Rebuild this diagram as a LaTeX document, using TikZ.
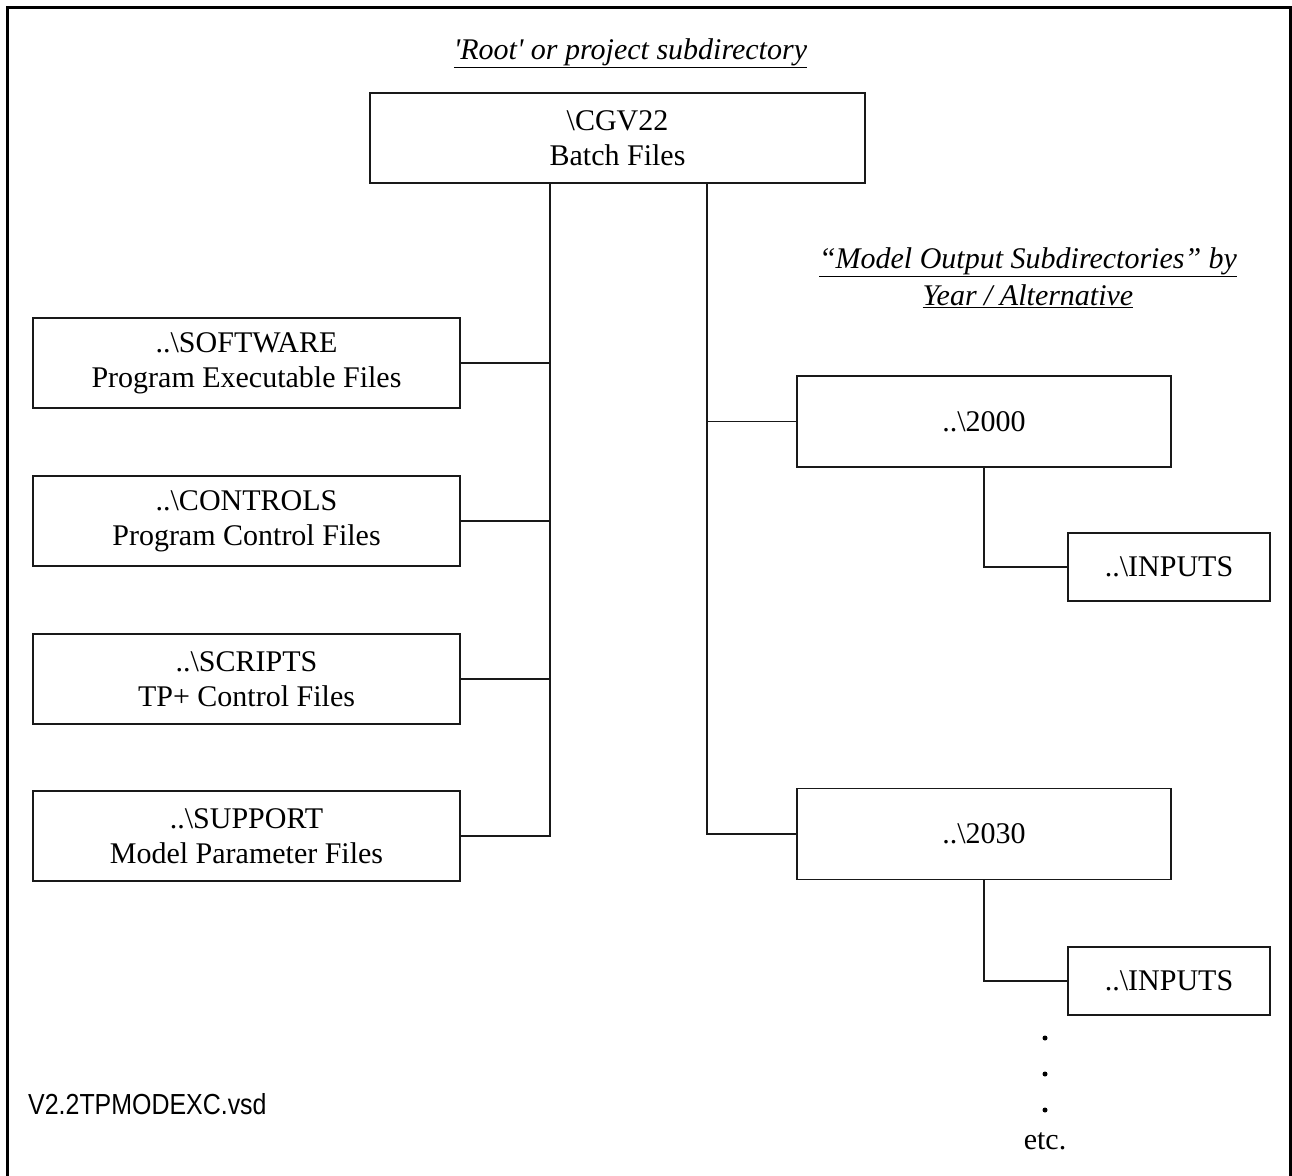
\documentclass[tikz,border=0pt]{standalone}
\usepackage{fontspec}
\setmainfont{Liberation Serif}
\newfontfamily\labelsans{Liberation Sans}
\begin{document}
\begin{tikzpicture}[x=1pt,y=-1pt,
  dirbox/.style={draw=black!90, line width=1.2pt, align=center, inner sep=0pt,
    font=\fontsize{30}{35}\selectfont},
  leftbox/.style={dirbox, minimum width=427pt, minimum height=90pt},
  yearbox/.style={dirbox, minimum width=374pt, minimum height=91pt},
  inbox/.style={dirbox, minimum width=202pt, minimum height=68pt},
  heading/.style={anchor=base, inner sep=0pt, font=\itshape\fontsize{30}{35}\selectfont},
  wire/.style={draw=black!90, line width=1.1pt},
  dot/.style={circle, fill=black, inner sep=0pt, minimum size=5pt},
]
\useasboundingbox (0,0) rectangle (1292,1175);
% outer frame, open at the bottom edge of the sheet
\draw[line width=3pt] (7.5,1200) -- (7.5,7.5) -- (1290.5,7.5) -- (1290.5,1200);

% headings
\node[heading] (roothead) at (630.5,59) {\underline{\textquotesingle Root\textquotesingle\ or project subdirectory}};
\node[heading] (outhead1) at (1028,268) {\underline{“Model Output Subdirectories” by}};
\node[heading] (outhead2) at (1028,305) {\underline{Year / Alternative}};

% root directory
\node[dirbox, minimum width=495pt, minimum height=90pt] (root) at (617.5,138) {\textbackslash CGV22\\Batch Files};

% shared subdirectories
\node[leftbox] (software) at (246.5,363) {..\textbackslash SOFTWARE\\Program Executable Files};
\node[leftbox] (controls) at (246.5,521) {..\textbackslash CONTROLS\\Program Control Files};
\node[leftbox] (scripts)  at (246.5,679) {..\textbackslash SCRIPTS\\TP+ Control Files};
\node[leftbox] (support)  at (246.5,836) {..\textbackslash SUPPORT\\Model Parameter Files};

% model output subdirectories
\node[yearbox] (y2000) at (984,421.5) {..\textbackslash 2000};
\node[yearbox] (y2030) at (984,834) {..\textbackslash 2030};
\node[inbox] (in2000) at (1169,567) {..\textbackslash INPUTS};
\node[inbox] (in2030) at (1169,981) {..\textbackslash INPUTS};

% trunk lines
\coordinate (trunkL) at (550,0);
\coordinate (trunkR) at (707,0);
\draw[wire] (root.south -| trunkL) |- (support.east);
\draw[wire] (software.east) -- (software.east -| trunkL);
\draw[wire] (controls.east) -- (controls.east -| trunkL);
\draw[wire] (scripts.east) -- (scripts.east -| trunkL);
\draw[wire] (root.south -| trunkR) |- (y2030.west);
\draw[wire] (y2000.west) -- (y2000.west -| trunkR);
\draw[wire] (y2000.south) |- (in2000.west);
\draw[wire] (y2030.south) |- (in2030.west);

% continuation marks
\node[dot] (dot1) at (1045,1038) {};
\node[dot] (dot2) at (1045,1074) {};
\node[dot] (dot3) at (1045,1110) {};
\node[anchor=base, inner sep=0pt, font=\fontsize{30}{35}\selectfont] (etc) at (1045,1149) {etc.};

% file name
\node[anchor=base west, inner sep=0pt, font=\labelsans\fontsize{29}{34}\selectfont] (fname) at (28,1114) {\scalebox{0.86}[1]{V2.2TPMODEXC.vsd}};
\end{tikzpicture}
\end{document}
